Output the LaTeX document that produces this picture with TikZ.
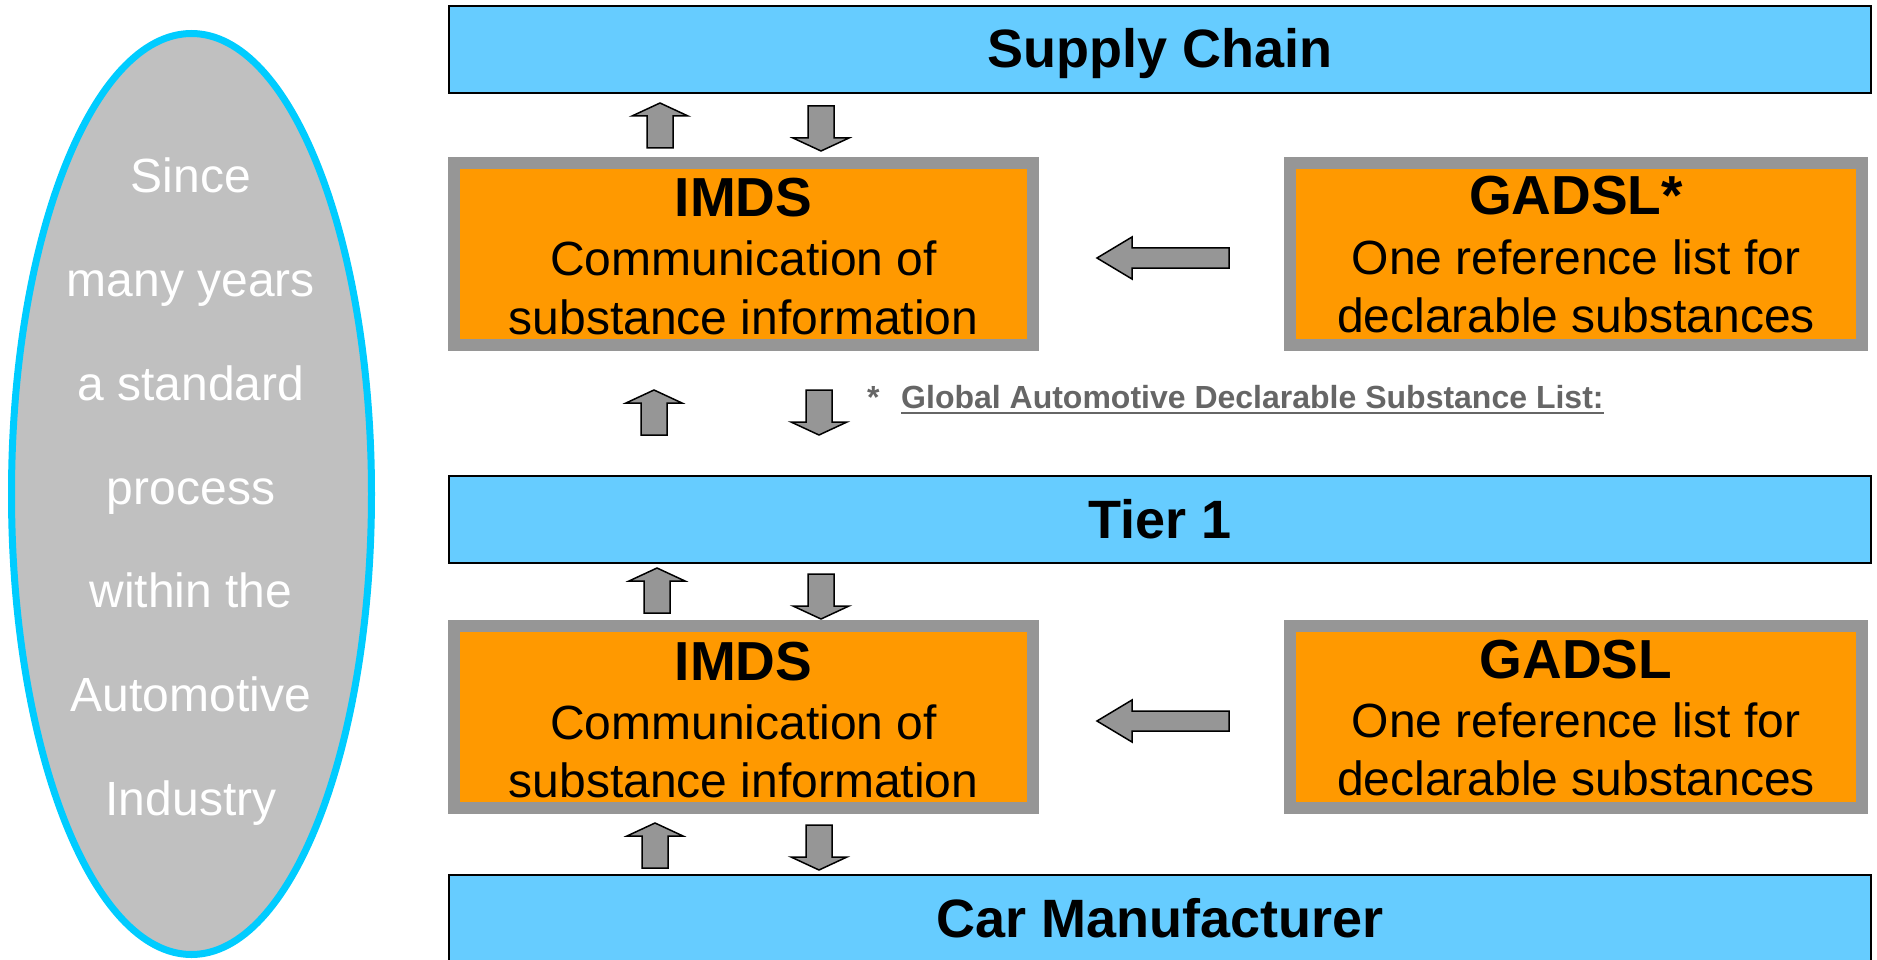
\documentclass[tikz,border=0pt]{standalone}
\usepackage{fontspec}
\setmainfont{Liberation Sans}
\usetikzlibrary{shapes.geometric}
\definecolor{boxblue}{HTML}{66CCFF}
\definecolor{boxorange}{HTML}{FF9900}
\definecolor{boxgray}{HTML}{969696}
\definecolor{ellgray}{HTML}{C0C0C0}
\definecolor{ellcyan}{HTML}{00CCFF}
\definecolor{notegray}{HTML}{666666}
\definecolor{arrowgray}{HTML}{969696}
\begin{document}
\begin{tikzpicture}[x=1pt,y=-1pt,
  bluebox/.style={draw=black, line width=2pt, fill=boxblue, minimum width=1422pt, minimum height=87pt, inner sep=0pt, outer sep=0pt},
  orangebox/.style={draw=boxgray, line width=12pt, fill=boxorange, minimum height=182pt, inner sep=0pt, outer sep=0pt},
  titletext/.style={anchor=base, inner sep=0pt, font=\fontsize{54}{60}\selectfont\bfseries},
  headtext/.style={anchor=base, inner sep=0pt, font=\fontsize{55}{60}\selectfont\bfseries},
  bodytext/.style={anchor=base, inner sep=0pt, font=\fontsize{48}{58}\selectfont},
  elltext/.style={anchor=base, inner sep=0pt, text=white, font=\fontsize{48}{58}\selectfont},
  notetext/.style={anchor=base west, inner sep=0pt, text=notegray, font=\fontsize{32}{36}\selectfont\bfseries},
  arrowstyle/.style={draw=black, line width=1.5pt, fill=arrowgray, line join=miter},
  uparr/.pic={\draw[arrowstyle] (0,0) -- (28,13) -- (13,13) -- (13,45) -- (-13,45) -- (-13,13) -- (-28,13) -- cycle;},
  leftarr/.pic={\draw[arrowstyle] (0,0) -- (35,-21) -- (35,-10) -- (132,-10) -- (132,10) -- (35,10) -- (35,21) -- cycle;}
]
\useasboundingbox (0,0) rectangle (1877,960);

% left ellipse
\node[ellipse, draw=ellcyan, line width=7pt, fill=ellgray, minimum width=360pt, minimum height=921pt, inner sep=0pt] (ell) at (191.5,494) {};
\foreach \t [count=\i from 0] in {Since, many years, a standard, process, within the, Automotive, Industry}
  \node[elltext] (ell\i) at (191,{193+103.7*\i}) {\t};

% blue bars
\node[bluebox] (sc) at (1160,49.5) {};
\node[titletext] (sctext) at (1160,68) {Supply Chain};
\node[bluebox] (tier) at (1160,519) {};
\node[titletext] (tiertext) at (1160,538) {Tier 1};
\node[bluebox] (cm) at (1160,918.5) {};
\node[titletext] (cmtext) at (1160,937.5) {Car Manufacturer};

% orange boxes
\node[orangebox, minimum width=579pt] (imds1) at (743.5,254) {};
\node[headtext] (imds1a) at (743.5,217) {IMDS};
\node[bodytext] (imds1b) at (743.5,276) {Communication of};
\node[bodytext] (imds1c) at (743.5,334) {substance information};

\node[orangebox, minimum width=572pt] (gadsl1) at (1576,254) {};
\node[headtext] (gadsl1a) at (1576,215) {GADSL*};
\node[bodytext] (gadsl1b) at (1576,274) {One reference list for};
\node[bodytext] (gadsl1c) at (1576,332) {declarable substances};

\node[orangebox, minimum width=579pt] (imds2) at (743.5,717) {};
\node[headtext] (imds2a) at (743.5,680) {IMDS};
\node[bodytext] (imds2b) at (743.5,739) {Communication of};
\node[bodytext] (imds2c) at (743.5,797) {substance information};

\node[orangebox, minimum width=572pt] (gadsl2) at (1576,717) {};
\node[headtext] (gadsl2a) at (1576,678) {GADSL};
\node[bodytext] (gadsl2b) at (1576,737) {One reference list for};
\node[bodytext] (gadsl2c) at (1576,795) {declarable substances};

% footnote
\node[notetext] (star) at (867,408) {*};
\node[notetext] (note) at (901,408) {Global Automotive Declarable Substance List:};
\draw[notegray, line width=2pt] ([yshift=-5pt]note.base west) -- ([yshift=-5pt]note.base east);

% block arrows
\pic at (660,103) {uparr};
\pic[rotate=180] at (821,151) {uparr};
\pic at (654,390) {uparr};
\pic[rotate=180] at (819,435) {uparr};
\pic at (657,568) {uparr};
\pic[rotate=180] at (821,619) {uparr};
\pic at (655,823) {uparr};
\pic[rotate=180] at (819,870) {uparr};
\pic at (1097,258) {leftarr};
\pic at (1097,721) {leftarr};
\end{tikzpicture}
\end{document}
